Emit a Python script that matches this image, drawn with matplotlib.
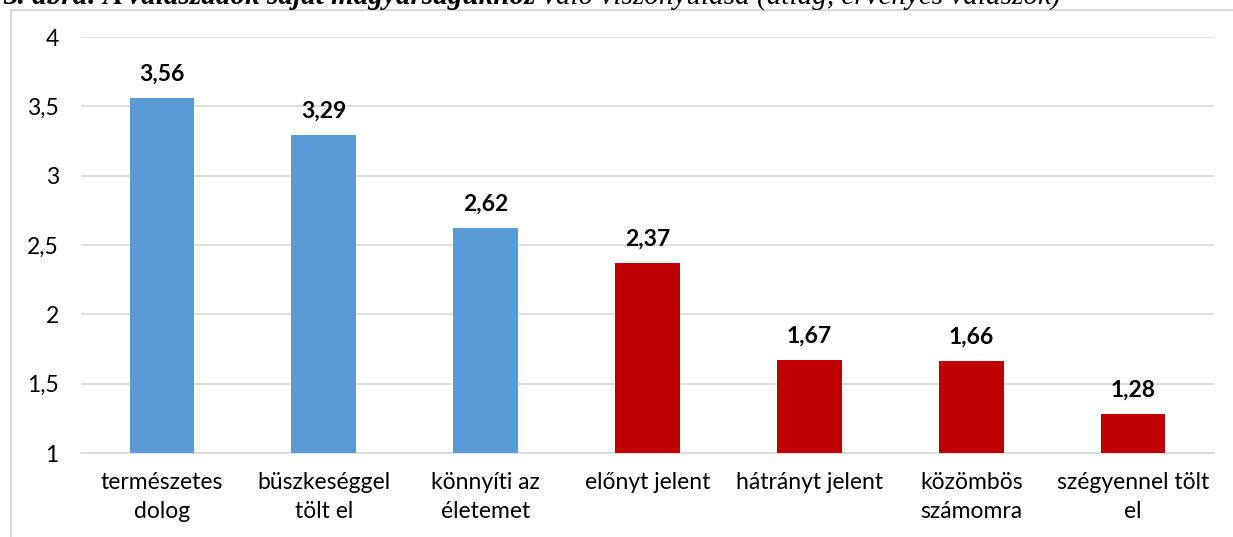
import matplotlib
matplotlib.use("Agg")
import matplotlib.pyplot as plt
from matplotlib.patches import Rectangle

title_bold = "3. ábra: A válaszadók saját magyarságukhoz "
title_rest = "való viszonyulása (átlag, érvényes válaszok)"
categories = ["természetes\ndolog", "büszkeséggel\ntölt el", "könnyíti az\néletemet",
              "előnyt jelent", "hátrányt jelent", "közömbös\nszámomra", "szégyennel tölt\nel"]
values = [3.56, 3.29, 2.62, 2.37, 1.67, 1.66, 1.28]
value_labels = ["3,56", "3,29", "2,62", "2,37", "1,67", "1,66", "1,28"]
colors = ["#5B9BD5", "#5B9BD5", "#5B9BD5", "#C00000", "#C00000", "#C00000", "#C00000"]
yticks = [1, 1.5, 2, 2.5, 3, 3.5, 4]
ytick_labels = ["1", "1,5", "2", "2,5", "3", "3,5", "4"]

W, H = 1233, 537
fig = plt.figure(figsize=(W / 100, H / 100), dpi=100)
plt.rcParams['font.family'] = ['Lato', 'DejaVu Sans']

# frame (only left/top visible)
fig.patches.append(Rectangle((10.5 / W, -0.1), 1.2, 1 - 9.5 / H + 0.1, transform=fig.transFigure,
                             fill=False, edgecolor="#d9d9d9", linewidth=1.5))

t1 = fig.text(3 / W, 1 - 4 / H, title_bold, fontsize=21, fontweight='bold', fontstyle='italic',
              family='Liberation Serif', ha='left', va='baseline')
fig.canvas.draw()
bb = t1.get_window_extent(renderer=fig.canvas.get_renderer())
fig.text(bb.x1 / W, 1 - 4 / H, title_rest, fontsize=21, fontstyle='italic',
         family='Liberation Serif', ha='left', va='baseline')

ax = fig.add_axes([81 / W, 1 - 453 / H, (1214 - 81) / W, (453 - 37) / H])
x = range(len(categories))
ax.bar(x, values, width=0.40, color=colors, bottom=0, zorder=3)
ax.set_ylim(1, 4)
ax.set_xlim(-0.5, len(categories) - 0.5)
ax.set_yticks(yticks)
ax.set_yticklabels(ytick_labels)
ax.set_xticks(list(x))
ax.set_xticklabels(categories, linespacing=1.45)
ax.tick_params(axis='both', length=0, labelsize=16.5, colors='black')
ax.tick_params(axis='y', pad=16)
ax.tick_params(axis='x', pad=14)
ax.grid(axis='y', color='#d9d9d9', linewidth=1.2, zorder=0)
for s in ['top', 'right', 'left']:
    ax.spines[s].set_visible(False)
ax.spines['bottom'].set_color('#d9d9d9')
ax.spines['bottom'].set_linewidth(1.2)
ax.set_facecolor('none')

for xi, v, lab in zip(x, values, value_labels):
    ax.annotate(lab, (xi, v), xytext=(0, 17.5), textcoords='offset points',
                ha='center', va='center', fontsize=16.5, fontweight='bold')

fig.savefig("out.png", dpi=100)
